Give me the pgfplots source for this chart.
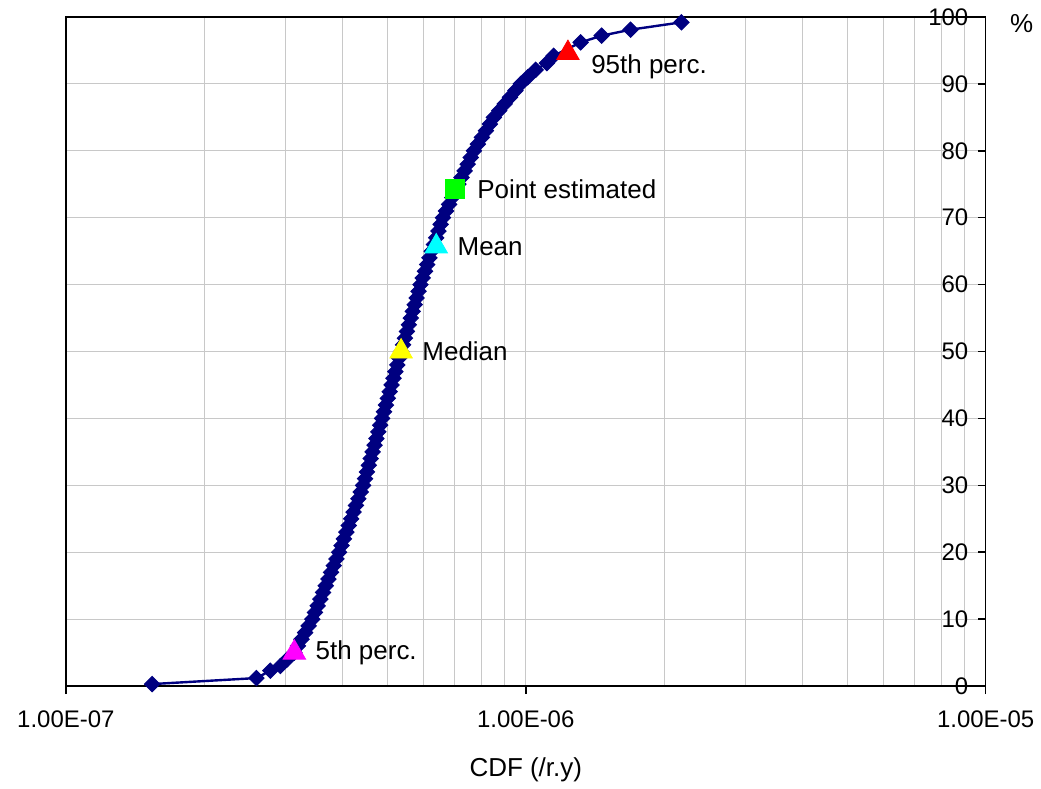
\documentclass[border=0pt]{standalone}
\usepackage{pgfplots}
\pgfplotsset{compat=1.18}
\usepackage{pgfplotstable}
\usepackage{fontspec}
\setmainfont{Liberation Sans}
\definecolor{navy}{RGB}{0,0,128}
\definecolor{gridgray}{RGB}{200,200,200}
\definecolor{pinkm}{RGB}{255,0,255}
\definecolor{cyanm}{RGB}{0,255,255}
\definecolor{yellowm}{RGB}{255,255,0}
\definecolor{greenm}{RGB}{0,255,0}
\definecolor{redm}{RGB}{255,0,0}

\pgfplotstableread{
x y
1.540e-7 0.3
2.596e-7 1.2
2.784e-7 2.3
2.927e-7 3.0
3.031e-7 4
3.139e-7 5
3.196e-7 6
3.254e-7 7
3.313e-7 8
3.373e-7 9
3.434e-7 10
3.480e-7 11
3.528e-7 12
3.575e-7 13
3.624e-7 14
3.673e-7 15
3.723e-7 16
3.773e-7 17
3.824e-7 18
3.876e-7 19
3.929e-7 20
3.976e-7 21
4.024e-7 22
4.073e-7 23
4.122e-7 24
4.172e-7 25
4.222e-7 26
4.273e-7 27
4.325e-7 28
4.377e-7 29
4.430e-7 30
4.472e-7 31
4.515e-7 32
4.558e-7 33
4.601e-7 34
4.645e-7 35
4.690e-7 36
4.734e-7 37
4.780e-7 38
4.825e-7 39
4.871e-7 40
4.918e-7 41
4.965e-7 42
5.012e-7 43
5.060e-7 44
5.108e-7 45
5.157e-7 46
5.206e-7 47
5.256e-7 48
5.306e-7 49
5.357e-7 50
5.409e-7 51
5.462e-7 52
5.515e-7 53
5.569e-7 54
5.623e-7 55
5.678e-7 56
5.734e-7 57
5.790e-7 58
5.846e-7 59
5.903e-7 60
5.970e-7 61
6.037e-7 62
6.105e-7 63
6.174e-7 64
6.244e-7 65
6.315e-7 66
6.386e-7 67
6.458e-7 68
6.531e-7 69
6.605e-7 70
6.708e-7 71
6.813e-7 72
6.920e-7 73
7.028e-7 74
7.138e-7 75
7.250e-7 76
7.363e-7 77
7.478e-7 78
7.595e-7 79
7.714e-7 80
7.870e-7 81
8.029e-7 82
8.191e-7 83
8.356e-7 84
8.525e-7 85
8.758e-7 86
8.997e-7 87
9.243e-7 88
9.495e-7 89
9.753e-7 90
1.010e-6 91
1.051e-6 92.1
1.111e-6 93.1
1.150e-6 94.2
1.316e-6 96.2
1.462e-6 97.2
1.690e-6 98.1
2.180e-6 99.2
}\cdf

\begin{document}
\begin{tikzpicture}
\begin{axis}[
  scale only axis, width=460.5pt, height=335pt,
  xmode=log, xmin=1e-7, xmax=1e-5, ymin=0, ymax=100,
  xtick={1e-7,1e-6,1e-5},
  xticklabels={1.00E-07,1.00E-06,1.00E-05},
  ytick={0,10,...,100},
  xtick pos=bottom, ytick pos=right, yticklabel pos=right,
  tick align=outside, major tick length=4pt, minor tick length=0pt,
  y tick style={xshift=-4pt},
  grid=both,
  major grid style={gridgray, line width=0.6pt},
  minor grid style={gridgray, line width=0.6pt},
  minor y tick num=0,
  axis line style={black, line width=0.8pt},
  tick style={black, line width=0.8pt},
  ticklabel style={font=\fontsize{12}{14}\selectfont},
  /pgf/number format/assume math mode=true,
  yticklabel style={anchor=east, inner sep=0pt, xshift=-12.5pt},
  xticklabel style={yshift=-5pt},
  xlabel={CDF (/r.y)},
  xlabel style={font=\fontsize{13}{15}\selectfont, yshift=-8pt},
  clip=false,
  every node near coord/.style={anchor=west, inner sep=0pt, font=\fontsize{13}{15}\selectfont, text=black},
]
\addplot[navy, line width=1.2pt, mark=square*, mark size=2.7pt, mark options={rotate=45, fill=navy, draw=navy, line width=0.5pt}] table[x=x, y=y] {\cdf};
\addplot[only marks, mark=triangle*, mark size=6.5pt, mark options={fill=pinkm, draw=pinkm},
  nodes near coords={5th perc.}, every node near coord/.append style={xshift=10.5pt}] coordinates {(3.139e-7,5)};
\addplot[only marks, mark=triangle*, mark size=6.5pt, mark options={fill=yellowm, draw=yellowm},
  nodes near coords={Median}, every node near coord/.append style={xshift=10.5pt}] coordinates {(5.357e-7,50)};
\addplot[only marks, mark=triangle*, mark size=6.5pt, mark options={fill=cyanm, draw=cyanm},
  nodes near coords={Mean}, every node near coord/.append style={xshift=10.5pt}] coordinates {(6.388e-7,65.7)};
\addplot[only marks, mark=square*, mark size=4.9pt, mark options={fill=greenm, draw=greenm},
  nodes near coords={Point estimated}, every node near coord/.append style={xshift=11pt}] coordinates {(7.014e-7,74.3)};
\addplot[only marks, mark=triangle*, mark size=6.5pt, mark options={fill=redm, draw=redm},
  nodes near coords={95th perc.}, every node near coord/.append style={xshift=11.5pt, yshift=-7pt}] coordinates {(1.235e-6,94.6)};
\node[font=\fontsize{13}{15}\selectfont, anchor=center] at ([shift={(18pt,-3.5pt)}]rel axis cs:1,1) {\%};
\end{axis}
\path ([shift={(-33pt,-51.5pt)}]current axis.south west) rectangle ([shift={(27pt,8.5pt)}]current axis.north east);
\end{tikzpicture}
\end{document}
